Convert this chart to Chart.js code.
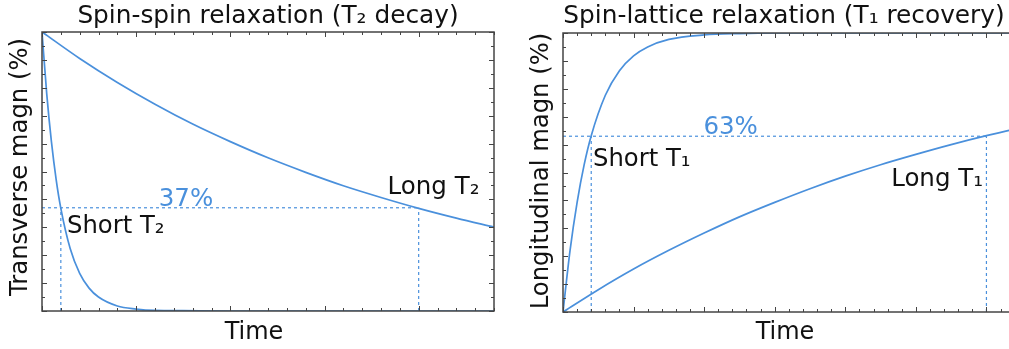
<!DOCTYPE html>
<html>
<head>
<meta charset="utf-8">
<script src="https://cdn.jsdelivr.net/npm/chart.js@4.4.1/dist/chart.umd.min.js"></script>
<style>
  html, body { margin: 0; padding: 0; background: #fff; overflow: hidden; }
  #wrap { position: relative; width: 1009px; height: 349px; overflow: hidden; }
  .box { position: absolute; top: 0; }
  #t2Box { left: 0; }
  #t1Box { left: 505px; }
</style>
</head>
<body>
<div id="wrap">
  <div class="box" id="t2Box"><canvas id="t2Chart" width="505" height="349"></canvas></div>
  <div class="box" id="t1Box"><canvas id="t1Chart" width="600" height="349"></canvas></div>
</div>
<script>
// --- T2 decay (transverse magnetisation, %) ---
const shortT2Time = [0, 0.05, 0.1, 0.15, 0.2, 0.3, 0.4, 0.5, 0.6, 0.8, 1.0, 1.2, 1.5, 2.0, 3.0, 4.8];
const shortT2Pct  = [100, 77.9, 60.7, 47.2, 36.8, 22.3, 13.5, 8.2, 5.0, 1.8, 0.7, 0.2, 0.1, 0, 0, 0];
const longT2Time  = [0, 0.4, 0.8, 1.2, 1.6, 2.0, 2.4, 2.8, 3.2, 3.6, 4.0, 4.4, 4.8];
const longT2Pct   = [100, 90.5, 81.9, 74.1, 67.0, 60.7, 54.9, 49.7, 44.9, 40.7, 36.8, 33.3, 30.1];

// --- T1 recovery (longitudinal magnetisation, %) ---
const shortT1Time = [0, 0.1, 0.2, 0.3, 0.4, 0.6, 0.8, 1.0, 1.2, 1.5, 2.0, 2.5, 3.0, 7.0];
const shortT1Pct  = [0, 22.1, 39.3, 52.8, 63.2, 77.7, 86.5, 91.8, 95.0, 97.7, 99.3, 99.8, 100, 100];
const longT1Time  = [0, 0.5, 1.0, 1.5, 2.0, 2.5, 3.0, 3.5, 4.0, 4.5, 5.0, 5.5, 6.0, 6.5, 7.0];
const longT1Pct   = [0, 8.0, 15.4, 22.1, 28.3, 34.1, 39.3, 44.2, 48.7, 52.8, 56.5, 60.0, 63.2, 66.1, 68.9];

// time constants and the 37% / 63% levels
const t2Short = 0.2, t2Long = 4.0, t2Level = 37;
const t1Short = 0.4, t1Long = 6.0, t1Level = 63;

const BLUE = "#4a90dc";
const FONT = "DejaVu Sans";

const toPoints = (xs, ys) => xs.map((x, i) => ({ x: x, y: ys[i] }));

const curve = (xs, ys) => ({
  data: toPoints(xs, ys),
  borderColor: BLUE,
  borderWidth: 1.7,
  pointRadius: 0,
  cubicInterpolationMode: "monotone",
  fill: false
});

const dashed = (pts) => ({
  data: pts,
  borderColor: BLUE,
  borderWidth: 1.2,
  borderDash: [3, 3],
  pointRadius: 0,
  fill: false
});

// box + inward ticks on all four sides
const framePlugin = {
  id: "frame",
  afterDatasetsDraw(chart, args, o) {
    const { ctx, chartArea: a, scales: { x, y } } = chart;
    ctx.save();
    ctx.strokeStyle = "#444";
    ctx.lineWidth = 1;
    const isMajor = (v, m) => Math.abs(v / m - Math.round(v / m)) < 1e-6;

    const nx = Math.round((x.max - x.min) / o.xStep);
    for (let i = 0; i <= nx; i++) {
      const v = x.min + i * o.xStep;
      const px = Math.round(x.getPixelForValue(v)) + 0.5;
      const len = isMajor(v, o.xMajor) ? 5 : 3;
      ctx.beginPath();
      ctx.moveTo(px, a.bottom); ctx.lineTo(px, a.bottom - len);
      ctx.moveTo(px, a.top); ctx.lineTo(px, a.top + len);
      ctx.stroke();
    }
    const ny = Math.round((y.max - y.min) / o.yStep);
    for (let i = 0; i <= ny; i++) {
      const v = y.min + i * o.yStep;
      const py = Math.round(y.getPixelForValue(v)) + 0.5;
      const len = isMajor(v, o.yMajor) ? 5 : 3;
      ctx.beginPath();
      ctx.moveTo(a.left, py); ctx.lineTo(a.left + len, py);
      ctx.moveTo(a.right, py); ctx.lineTo(a.right - len, py);
      ctx.stroke();
    }
    ctx.lineWidth = 1.5;
    ctx.strokeRect(a.left, a.top, a.right - a.left, a.bottom - a.top);
    ctx.restore();
  }
};

// titles, axis labels and in-plot notes
const textPlugin = {
  id: "texts",
  afterDraw(chart, args, o) {
    const { ctx, scales: { x, y } } = chart;
    ctx.save();
    ctx.textBaseline = "alphabetic";
    o.items.forEach(it => {
      ctx.font = (it.size || 24) + "px '" + FONT + "'";
      ctx.fillStyle = it.color || "#111";
      ctx.textAlign = it.align || "left";
      let px = it.px, py = it.py;
      if (it.x !== undefined) {
        px = x.getPixelForValue(it.x);
        py = y.getPixelForValue(it.y);
      }
      if (it.rotate) {
        ctx.save();
        ctx.translate(px, py);
        ctx.rotate(-Math.PI / 2);
        ctx.fillText(it.text, 0, 0);
        ctx.restore();
      } else {
        ctx.fillText(it.text, px, py);
      }
    });
    ctx.restore();
  }
};

function makeChart(id, datasets, xMax, pad, frame, items) {
  return new Chart(document.getElementById(id), {
    type: "line",
    data: { datasets: datasets },
    options: {
      responsive: false,
      animation: false,
      layout: { padding: pad },
      plugins: {
        legend: { display: false },
        tooltip: { enabled: false },
        frame: frame,
        texts: { items: items }
      },
      scales: {
        x: { type: "linear", min: 0, max: xMax, display: false },
        y: { type: "linear", min: 0, max: 100, display: false }
      }
    },
    plugins: [framePlugin, textPlugin]
  });
}

makeChart("t2Chart", [
  curve(shortT2Time, shortT2Pct),
  curve(longT2Time, longT2Pct),
  dashed([{ x: 0, y: t2Level }, { x: t2Long, y: t2Level }]),
  dashed([{ x: t2Short, y: 0 }, { x: t2Short, y: t2Level }]),
  dashed([{ x: t2Long, y: 0 }, { x: t2Long, y: t2Level }])
], 4.8, { left: 42, right: 11, top: 32, bottom: 38 },
  { xStep: 0.2, xMajor: 1, yStep: 5, yMajor: 10 },
  [
    { text: "Spin-spin relaxation (T\u2082 decay)", px: 268, py: 23, align: "center", size: 24.8 },
    { text: "Time", px: 254, py: 339, align: "center" },
    { text: "Transverse magn (%)", px: 27, py: 167, align: "center", rotate: true, size: 24.3 },
    { text: "37%", x: 1.24, y: 37.5, color: BLUE, size: 24.5 },
    { text: "Short T\u2082", x: 0.265, y: 27.8, size: 24.3 },
    { text: "Long T\u2082", x: 3.67, y: 41.8, size: 24.5 }
  ]);

makeChart("t1Chart", [
  curve(shortT1Time, shortT1Pct),
  curve(longT1Time, longT1Pct),
  dashed([{ x: 0, y: t1Level }, { x: t1Long, y: t1Level }]),
  dashed([{ x: t1Short, y: 0 }, { x: t1Short, y: t1Level }]),
  dashed([{ x: t1Long, y: 0 }, { x: t1Long, y: t1Level }])
], 7, { left: 58, right: 48, top: 33, bottom: 37 },
  { xStep: 0.2, xMajor: 1, yStep: 5, yMajor: 10 },
  [
    { text: "Spin-lattice relaxation (T\u2081 recovery)", px: 279, py: 23, align: "center", size: 24.8 },
    { text: "Time", px: 280, py: 339, align: "center" },
    { text: "Longitudinal magn (%)", px: 43, py: 171, align: "center", rotate: true, size: 24.3 },
    { text: "63%", x: 1.99, y: 63.8, color: BLUE, size: 24.5 },
    { text: "Short T\u2081", x: 0.425, y: 52.4, size: 24.3 },
    { text: "Long T\u2081", x: 4.65, y: 45.2, size: 24.5 }
  ]);
</script>
</body>
</html>
